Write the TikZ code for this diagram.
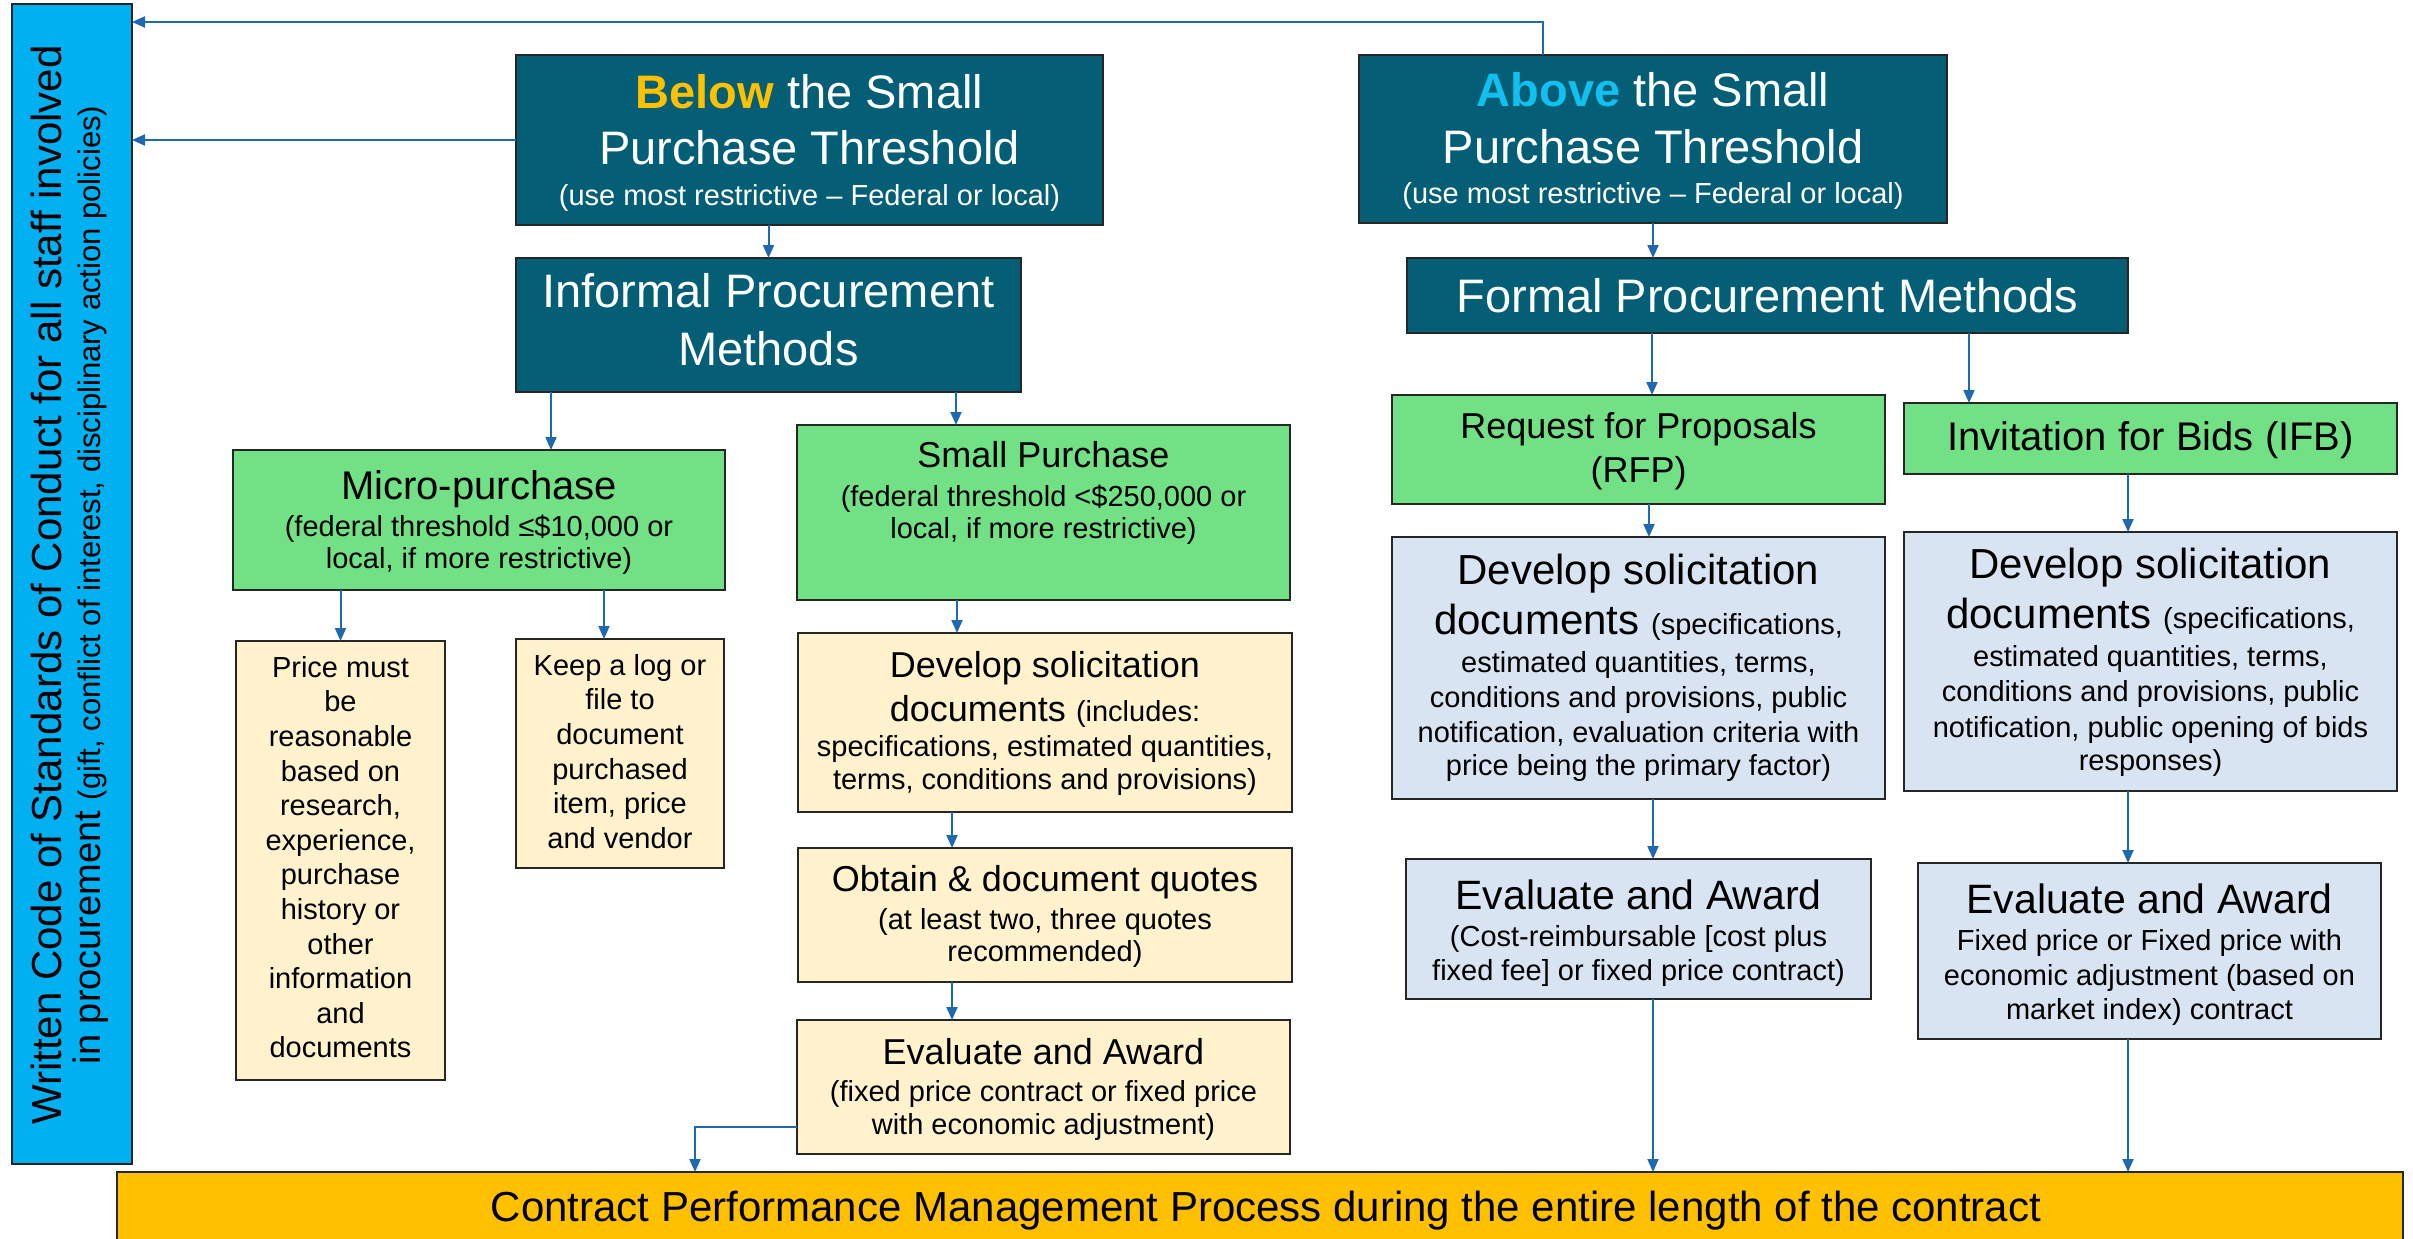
\documentclass[tikz,border=0pt]{standalone}
\usepackage{fontspec}
\setmainfont{Liberation Sans}
\usetikzlibrary{arrows.meta}
\definecolor{barcyan}{RGB}{0,176,240}
\definecolor{tealbg}{RGB}{4,94,117}
\definecolor{greenbg}{RGB}{114,224,133}
\definecolor{yellowbg}{RGB}{255,242,204}
\definecolor{bluebg}{RGB}{217,228,242}
\definecolor{orangebg}{RGB}{255,192,0}
\definecolor{arrowblue}{RGB}{30,105,175}
\definecolor{goldtxt}{RGB}{255,192,0}
\definecolor{cyantxt}{RGB}{15,192,240}
\definecolor{bordercol}{RGB}{38,38,38}
\newcommand\tline[3]{{\centering\spaceskip=0pt\xspaceskip=0pt\fontsize{#1}{#2}\selectfont #3\par}}
\newcommand\fs[1]{\fontsize{#1}{#1}\selectfont}
\begin{document}
\begin{tikzpicture}[x=1pt,y=-1pt,
  bx/.style={draw=bordercol, line width=2.5pt, inner sep=0pt, outer sep=0pt},
  tealbox/.style={bx, fill=tealbg},
  greenbox/.style={bx, fill=greenbg},
  yellowbox/.style={bx, fill=yellowbg},
  bluebox/.style={bx, fill=bluebg},
  txt/.style={inner sep=0pt, outer sep=0pt, text width=#1},
  wtxt/.style={txt=#1, text=white},
  arr/.style={draw=arrowblue, line width=2pt, -{Triangle[length=13pt,width=11pt]}}]
\useasboundingbox (0,0) rectangle (2413,1239);
\clip (0,0) rectangle (2413,1239);

% ---------- boxes ----------
\node[bx, fill=barcyan, minimum width=120pt, minimum height=1160pt] (bar) at (72,584) {};
\node[tealbox, minimum width=587pt, minimum height=170pt] (below) at (809.5,140) {};
\node[tealbox, minimum width=588pt, minimum height=168pt] (above) at (1653,139) {};
\node[tealbox, minimum width=505pt, minimum height=134pt] (informal) at (768.5,325) {};
\node[tealbox, minimum width=721pt, minimum height=75pt] (formal) at (1767.5,295.5) {};
\node[greenbox, minimum width=492pt, minimum height=140pt] (micro) at (479,520) {};
\node[greenbox, minimum width=493pt, minimum height=175pt] (smallp) at (1043.5,512.5) {};
\node[greenbox, minimum width=493pt, minimum height=109pt] (rfp) at (1638.5,449.5) {};
\node[greenbox, minimum width=493pt, minimum height=71pt] (ifb) at (2150.5,438.5) {};
\node[yellowbox, minimum width=209pt, minimum height=439pt] (price) at (340.5,860.5) {};
\node[yellowbox, minimum width=208pt, minimum height=229pt] (keep) at (620,753.5) {};
\node[yellowbox, minimum width=494pt, minimum height=179pt] (spdev) at (1045,722.5) {};
\node[yellowbox, minimum width=494pt, minimum height=134pt] (obtain) at (1045,915) {};
\node[yellowbox, minimum width=493pt, minimum height=134pt] (speval) at (1043.5,1087) {};
\node[bluebox, minimum width=493pt, minimum height=262pt] (rfpdev) at (1638.5,668) {};
\node[bluebox, minimum width=493pt, minimum height=259pt] (ifbdev) at (2150.5,661.5) {};
\node[bluebox, minimum width=465pt, minimum height=140pt] (rfpeval) at (1638.5,929) {};
\node[bluebox, minimum width=463pt, minimum height=176pt] (ifbeval) at (2149.5,951) {};
\node[bx, fill=orangebg, minimum width=2286pt, minimum height=78pt] (contract) at (1260,1211) {};

% ---------- texts ----------
\node[txt=1140pt, rotate=90] (barT) at (69.7,585) {%
  \tline{42}{42}{Written Code of Standards of Conduct for all staff involved}%
  \tline{38}{38.5}{in procurement {\fs{31}(gift, conflict of interest, disciplinary action policies)}}};
\node[wtxt=580pt] (belowT) at ([yshift=-3.4pt]below.center) {%
  \tline{47}{47}{{\bfseries\color{goldtxt}Below} the Small}%
  \tline{47}{56}{Purchase Threshold}%
  \tline{29}{41}{(use most restrictive – Federal or local)}};
\node[wtxt=580pt] (aboveT) at ([yshift=-2.4pt]above.center) {%
  \tline{47}{47}{{\bfseries\color{cyantxt}Above} the Small}%
  \tline{47}{57}{Purchase Threshold}%
  \tline{29}{40}{(use most restrictive – Federal or local)}};
\node[wtxt=500pt] (informalT) at ([yshift=5pt]informal.center) {%
  \tline{47}{47}{Informal Procurement}%
  \tline{47}{58}{Methods}};
\node[wtxt=715pt] (formalT) at (formal.center) {%
  \tline{47}{47}{Formal Procurement Methods}};
\node[txt=488pt] (microT) at ([yshift=-3pt]micro.center) {%
  \tline{40}{40}{Micro-purchase}%
  \tline{29}{36.6}{(federal threshold ≤\$10,000 or}%
  \tline{29}{32.4}{local, if more restrictive)}};
\node[txt=488pt] (smallpT) at ([yshift=19.1pt]smallp.center) {%
  \tline{36}{36}{Small Purchase}%
  \tline{29}{39}{(federal threshold <\$250,000 or}%
  \tline{29}{32}{local, if more restrictive)}};
\node[txt=488pt] (rfpT) at ([yshift=-1.4pt]rfp.center) {%
  \tline{36}{36}{Request for Proposals}%
  \tline{36}{44.4}{(RFP)}};
\node[txt=488pt] (ifbT) at ([yshift=-1.9pt]ifb.center) {%
  \tline{40}{40}{Invitation for Bids (IFB)}};
\node[txt=205pt] (priceT) at ([yshift=3.2pt]price.center) {%
  \tline{29}{29}{Price must}%
  \tline{29}{34.6}{be}%
  \tline{29}{34.6}{reasonable}%
  \tline{29}{34.6}{based on}%
  \tline{29}{34.6}{research,}%
  \tline{29}{34.6}{experience,}%
  \tline{29}{34.6}{purchase}%
  \tline{29}{34.6}{history or}%
  \tline{29}{34.6}{other}%
  \tline{29}{34.6}{information}%
  \tline{29}{34.6}{and}%
  \tline{29}{34.6}{documents}};
\node[txt=204pt] (keepT) at ([yshift=2.1pt]keep.center) {%
  \tline{29}{29}{Keep a log or}%
  \tline{29}{34.6}{file to}%
  \tline{29}{34.6}{document}%
  \tline{29}{34.6}{purchased}%
  \tline{29}{34.6}{item, price}%
  \tline{29}{34.6}{and vendor}};
\node[txt=490pt] (spdevT) at ([yshift=-1.4pt]spdev.center) {%
  \tline{36}{36}{Develop solicitation}%
  \tline{36}{43.7}{documents {\fs{29}(includes:}}%
  \tline{29}{35}{specifications, estimated quantities,}%
  \tline{29}{33.3}{terms, conditions and provisions)}};
\node[txt=490pt] (obtainT) at ([yshift=-1.6pt]obtain.center) {%
  \tline{36}{36}{Obtain \& document quotes}%
  \tline{29}{37.6}{(at least two, three quotes}%
  \tline{29}{32.4}{recommended)}};
\node[txt=490pt] (spevalT) at ([yshift=-2.6pt]speval.center) {%
  \tline{36}{36}{Evaluate and Award}%
  \tline{29}{36.7}{(fixed price contract or fixed price}%
  \tline{29}{32.6}{with economic adjustment)}};
\node[txt=490pt] (rfpdevT) at (rfpdev.center) {%
  \tline{42}{42}{Develop solicitation}%
  \tline{42}{49.6}{documents {\fs{29}(specifications,}}%
  \tline{29}{37.9}{estimated quantities, terms,}%
  \tline{29}{35.5}{conditions and provisions, public}%
  \tline{29}{34.6}{notification, evaluation criteria with}%
  \tline{29}{33.4}{price being the primary factor)}};
\node[txt=490pt] (ifbdevT) at ([yshift=-1.2pt]ifbdev.center) {%
  \tline{42}{42}{Develop solicitation}%
  \tline{42}{49.5}{documents {\fs{29}(specifications,}}%
  \tline{29}{37.9}{estimated quantities, terms,}%
  \tline{29}{35.5}{conditions and provisions, public}%
  \tline{29}{35.4}{notification, public opening of bids}%
  \tline{29}{33.7}{responses)}};
\node[txt=460pt] (rfpevalT) at ([yshift=-4pt]rfpeval.center) {%
  \tline{41}{41}{Evaluate and Award}%
  \tline{29}{36.7}{(Cost-reimbursable [cost plus}%
  \tline{29}{33.8}{fixed fee] or fixed price contract)}};
\node[txt=458pt] (ifbevalT) at ([yshift=-3.9pt]ifbeval.center) {%
  \tline{41}{41}{Evaluate and Award}%
  \tline{29}{36.6}{Fixed price or Fixed price with}%
  \tline{29}{34.6}{economic adjustment (based on}%
  \tline{29}{34.7}{market index) contract}};
\node[anchor=base, inner sep=0pt] (contractT) at (1266,1221) {\fontsize{42}{50}\selectfont Contract Performance Management Process during the entire length of the contract};

% ---------- connectors ----------
\coordinate (topy) at (0,22);
\draw[arr] ([xshift=-110pt]above.north) |- (bar.east |- topy);
\draw[arr] (below.west) -- (below.west -| bar.east);
\draw[arr] (informal.north |- below.south) -- (informal.north);
\draw[arr] (above.south) -- (above.south |- formal.north);

\coordinate (c1) at ([xshift=35pt]informal.south west);
\coordinate (c2) at ([xshift=-65pt]informal.south east);
\coordinate (c3) at ([xshift=245pt]formal.south west);
\coordinate (c4) at ([xshift=-159pt]formal.south east);
\draw[arr] (c1) -- (c1 |- micro.north);
\draw[arr] (c2) -- (c2 |- smallp.north);
\draw[arr] (c3) -- (c3 |- rfp.north);
\draw[arr] (c4) -- (c4 |- ifb.north);

\draw[arr] (price.north |- micro.south) -- (price.north);
\coordinate (c5) at ([xshift=-16pt]keep.north);
\draw[arr] (c5 |- micro.south) -- (c5);

\coordinate (c6) at ([xshift=-86.5pt]smallp.south);
\coordinate (c7) at ([xshift=-93pt]spdev.south);
\coordinate (c8) at ([xshift=-93pt]obtain.south);
\draw[arr] (c6) -- (c6 |- spdev.north);
\draw[arr] (c7) -- (c7 |- obtain.north);
\draw[arr] (c8) -- (c8 |- speval.north);
\coordinate (c9) at ([yshift=-40pt]speval.west);
\coordinate (c10) at ([xshift=578pt]contract.north west);
\draw[arr] (c9) -| (c10);

\coordinate (c11) at ([xshift=10.5pt]rfp.south);
\coordinate (c12) at ([xshift=14.5pt]rfpdev.south);
\coordinate (c13) at ([xshift=14.5pt]rfpeval.south);
\draw[arr] (c11) -- (c11 |- rfpdev.north);
\draw[arr] (c12) -- (c12 |- rfpeval.north);
\draw[arr] (c13) -- (c13 |- contract.north);

\coordinate (c14) at ([xshift=-22.5pt]ifb.south);
\coordinate (c15) at ([xshift=-22.5pt]ifbdev.south);
\coordinate (c16) at ([xshift=-21.5pt]ifbeval.south);
\draw[arr] (c14) -- (c14 |- ifbdev.north);
\draw[arr] (c15) -- (c15 |- ifbeval.north);
\draw[arr] (c16) -- (c16 |- contract.north);
\end{tikzpicture}
\end{document}
